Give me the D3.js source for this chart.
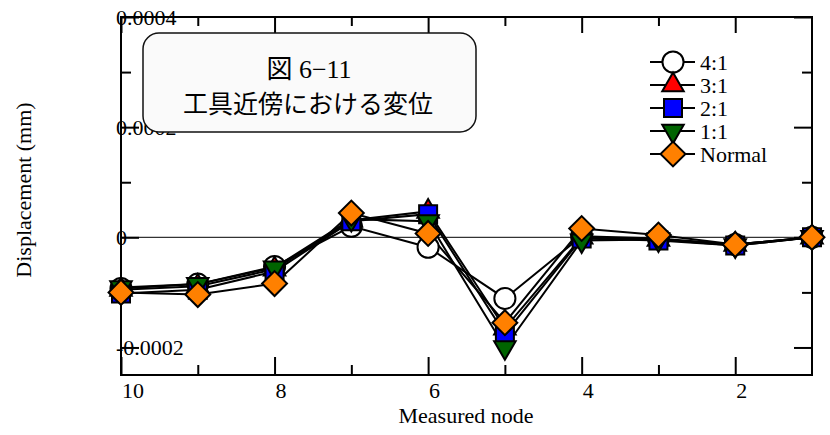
<!DOCTYPE html>
<html>
<head>
<meta charset="utf-8">
<script src="https://cdn.jsdelivr.net/npm/d3@7"></script>
<style>
  body { margin: 0; background: #fff; }
  text { font-family: "Liberation Serif", "Noto Sans CJK JP", serif; fill: #000; }
</style>
</head>
<body>
<script>
// data (displacement in mm per measured node)
var nodes = [10, 9, 8, 7, 6, 5, 4, 3, 2, 1];
var series41 = [-0.000093, -0.000085, -0.000053, 0.000020, -0.000018, -0.000111, 0.000002, -0.000002, -0.000013, 0];
var series31 = [-0.000095, -0.000089, -0.000058, 0.000031, 0.000047, -0.000165, 0, -0.000004, -0.000013, 0];
var series21 = [-0.000102, -0.000095, -0.000062, 0.000029, 0.000042, -0.000175, -0.000002, -0.000006, -0.000015, 0];
var series11 = [-0.000091, -0.000085, -0.000055, 0.000033, 0.000029, -0.000200, -0.000006, -0.000004, -0.000015, 0];
var seriesNormal = [-0.000100, -0.000104, -0.000084, 0.000044, 0.000007, -0.000155, 0.000016, 0.000004, -0.000013, 0];

var seriesNames = ["4:1", "3:1", "2:1", "1:1", "Normal"];
var xMajorTicks = [10, 8, 6, 4, 2];
var xMinorTicks = [9, 7, 5, 3];
var yMajorTicks = [0.0004, 0.0002, 0, -0.0002];
var yMinorTicks = [0.0003, 0.0001, -0.0001];
var yTickLabels = ["0.0004", "0.0002", "0", "-0.0002"];

var svgWidth = 830;
var svgHeight = 435;
var plot = { left: 121, right: 812, top: 17, bottom: 375 };

var svg = d3.select("body")
  .append("svg")
  .attr("width", svgWidth)
  .attr("height", svgHeight);

var xScale = d3.scaleLinear()
  .domain([10, 1])
  .range([plot.left, plot.right]);

var yScale = d3.scaleLinear()
  .domain([-0.00025, 0.0004])
  .range([plot.bottom, plot.top]);

// zero reference line
svg.append("line")
  .attr("x1", plot.left).attr("x2", plot.right)
  .attr("y1", yScale(0)).attr("y2", yScale(0))
  .attr("stroke", "#000")
  .attr("stroke-width", 1);

// inward ticks on all four sides
function tickAxis(axisFn, scale, values, len, tx, ty) {
  var g = svg.append("g")
    .attr("transform", `translate(${tx}, ${ty})`)
    .call(axisFn(scale).tickValues(values).tickSize(-len).tickFormat(""));
  g.select(".domain").remove();
  g.selectAll("line").attr("stroke", "#000").attr("stroke-width", 2);
  return g;
}
tickAxis(d3.axisBottom, xScale, xMajorTicks, 18, 0, plot.bottom);
tickAxis(d3.axisBottom, xScale, xMinorTicks, 10, 0, plot.bottom);
tickAxis(d3.axisTop, xScale, xMajorTicks, 16, 0, plot.top);
tickAxis(d3.axisTop, xScale, xMinorTicks, 9, 0, plot.top);
tickAxis(d3.axisLeft, yScale, yMajorTicks, 18, plot.left, 0);
tickAxis(d3.axisLeft, yScale, yMinorTicks, 10, plot.left, 0);
tickAxis(d3.axisRight, yScale, yMajorTicks, 18, plot.right, 0);
tickAxis(d3.axisRight, yScale, yMinorTicks, 10, plot.right, 0);

// frame
svg.append("rect")
  .attr("x", plot.left).attr("y", plot.top)
  .attr("width", plot.right - plot.left)
  .attr("height", plot.bottom - plot.top)
  .attr("fill", "none")
  .attr("stroke", "#000")
  .attr("stroke-width", 2);

// tick labels
svg.selectAll(".xlabel")
  .data(xMajorTicks)
  .enter()
  .append("text")
  .attr("x", d => xScale(d) + 1)
  .attr("y", 398)
  .attr("font-size", 22)
  .text(d => d);

svg.selectAll(".ylabel")
  .data(yMajorTicks)
  .enter()
  .append("text")
  .attr("x", 116)
  .attr("y", d => yScale(d) + 7.5)
  .attr("font-size", 22)
  .text((d, i) => yTickLabels[i]);

// title box
svg.append("rect")
  .attr("x", 143).attr("y", 33)
  .attr("width", 333).attr("height", 99)
  .attr("rx", 16)
  .attr("fill", "#fafafa")
  .attr("stroke", "#111")
  .attr("stroke-width", 1.5);

svg.append("text")
  .attr("x", 309).attr("y", 78)
  .attr("text-anchor", "middle")
  .attr("font-size", 26)
  .text("図 6−11");

svg.append("text")
  .attr("x", 308).attr("y", 113)
  .attr("text-anchor", "middle")
  .attr("font-size", 25)
  .style("font-family", "'Noto Sans CJK JP'")
  .text("工具近傍における変位");

// series lines and markers
var allSeries = [series41, series31, series21, series11, seriesNormal];
var markerStyles = [
  { type: d3.symbolCircle, size: 350, fill: "#fff", rotate: 0 },
  { type: d3.symbolTriangle, size: 200, fill: "#ff0000", rotate: 0 },
  { type: d3.symbolSquare, size: 324, fill: "#0000ff", rotate: 0 },
  { type: d3.symbolTriangle, size: 200, fill: "#006400", rotate: 180 },
  { type: d3.symbolSquare, size: 310, fill: "#ff8000", rotate: 45 }
];

var line = d3.line()
  .x((d, i) => xScale(nodes[i]))
  .y(d => yScale(d));

allSeries.forEach(function (s) {
  svg.append("path")
    .datum(s)
    .attr("d", line)
    .attr("fill", "none")
    .attr("stroke", "#000")
    .attr("stroke-width", 2);
});

function drawMarker(sel, st) {
  sel.append("path")
    .attr("d", d3.symbol().type(st.type).size(st.size))
    .attr("fill", st.fill)
    .attr("stroke", "#000")
    .attr("stroke-width", 2)
    .attr("transform", function () {
      var p = d3.select(this.parentNode).datum();
      return `translate(${p[0]}, ${p[1]}) rotate(${st.rotate})`;
    });
}

allSeries.forEach(function (s, k) {
  var pts = s.map((v, i) => [xScale(nodes[i]), yScale(v)]);
  svg.append("g")
    .selectAll("g")
    .data(pts)
    .enter()
    .append("g")
    .call(drawMarker, markerStyles[k]);
});

// legend
var legendY = d3.scaleLinear().domain([0, 4]).range([62, 154]);
seriesNames.forEach(function (name, k) {
  var y = legendY(k);
  svg.append("line")
    .attr("x1", 650).attr("x2", 695)
    .attr("y1", y).attr("y2", y)
    .attr("stroke", "#000")
    .attr("stroke-width", 2);
  svg.append("g")
    .datum([673, y])
    .call(drawMarker, markerStyles[k]);
  svg.append("text")
    .attr("x", 700)
    .attr("y", y + 8)
    .attr("font-size", 22)
    .text(name);
});

// axis titles
svg.append("text")
  .attr("x", 466)
  .attr("y", 423)
  .attr("text-anchor", "middle")
  .attr("font-size", 22)
  .text("Measured node");

svg.append("text")
  .attr("transform", "translate(31, 190) rotate(-90)")
  .attr("text-anchor", "middle")
  .attr("font-size", 22)
  .text("Displacement (mm)");
</script>
</body>
</html>
